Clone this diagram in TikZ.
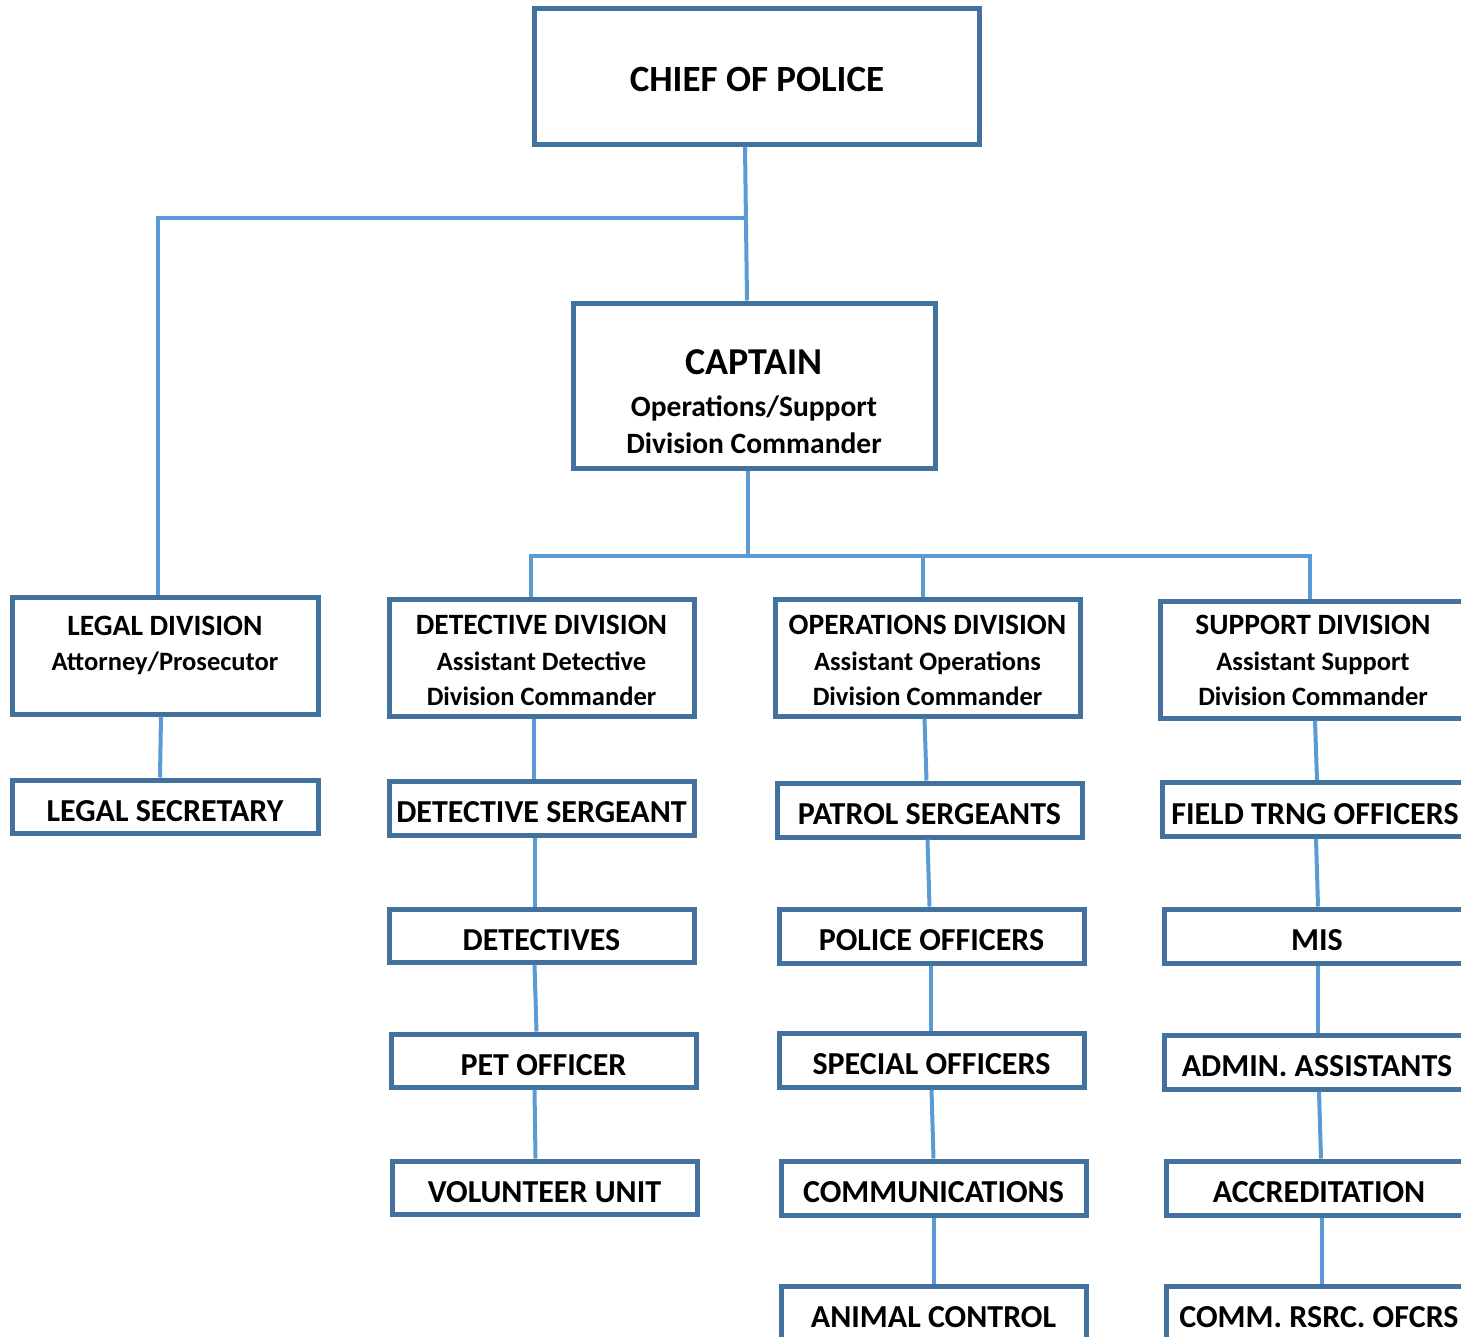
\documentclass[tikz,border=0pt]{standalone}
\usepackage{fontspec}
\setmainfont{Carlito}
\usepackage{tikz}

\definecolor{boxblue}{HTML}{41719C}
\definecolor{lineblue}{HTML}{5B9BD5}

\begin{document}
\begin{tikzpicture}[x=1pt,y=-1pt,
    box/.style = {draw=boxblue, line width=5pt, fill=white, align=center,
        inner sep=0pt, text=black, text depth=0pt, font=\bfseries},
    division/.style = {box, minimum width=305, minimum height=117, text height=96pt,
        font=\fontsize{26.5}{35.5}\selectfont\bfseries},
    unit/.style = {box, minimum width=305, minimum height=54, text height=29pt,
        font=\fontsize{32}{38}\selectfont\bfseries},
    link/.style = {draw=lineblue, line width=4pt}]
    \useasboundingbox (0,0) rectangle (1461,1336);
    \clip (0,0) rectangle (1461,1336);

    % top
    \node[box, minimum width=445, minimum height=136, text height=31.5pt,
        font=\fontsize{37}{44}\selectfont\bfseries] (chief) at (757,76) {CHIEF OF POLICE};
    \node[box, minimum width=362, minimum height=165, text height=135.5pt,
        font=\fontsize{29.5}{37}\selectfont\bfseries] (captain) at (754,385.5)
        {{\fontsize{38}{44}\selectfont CAPTAIN}\\[5pt]Operations/Support\\Division Commander};

    % divisions
    \node[division, minimum width=306, text height=30pt] (legal) at (165,655.5)
        {{\fontsize{29.5}{36}\selectfont LEGAL DIVISION}\\Attorney/Prosecutor};
    \node[division] (detdiv) at (541.5,657.5)
        {{\fontsize{29.5}{36}\selectfont DETECTIVE DIVISION}\\Assistant Detective\\Division Commander};
    \node[division] (opsdiv) at (927.5,657.5)
        {{\fontsize{29.5}{36}\selectfont OPERATIONS DIVISION}\\Assistant Operations\\Division Commander};
    \node[division, text height=92pt] (supdiv) at (1313,659.5)
        {{\fontsize{29.5}{36}\selectfont SUPPORT DIVISION}\\Assistant Support\\Division Commander};

    % units
    \node[unit, minimum width=306, minimum height=53] (legsec) at (165,806.5) {LEGAL SECRETARY};

    \node[unit] (detsgt) at (541.5,808) {DETECTIVE SERGEANT};
    \node[unit, minimum height=53] (dets) at (541.5,935.5) {DETECTIVES};
    \node[unit, minimum height=53] (pet) at (543.5,1060.5) {PET OFFICER};
    \node[unit, minimum height=53] (vol) at (544.5,1187.5) {VOLUNTEER UNIT};

    \node[unit] (patrol) at (929.5,810) {PATROL SERGEANTS};
    \node[unit] (police) at (931.5,936) {POLICE OFFICERS};
    \node[unit] (special) at (931.5,1060) {SPECIAL OFFICERS};
    \node[unit] (comms) at (933.5,1188) {COMMUNICATIONS};
    \node[unit] (animal) at (933.5,1313) {ANIMAL CONTROL};

    \node[unit] (field) at (1315,809.5) {FIELD TRNG OFFICERS};
    \node[unit] (mis) at (1317,936) {MIS};
    \node[unit] (admin) at (1317,1062) {ADMIN. ASSISTANTS};
    \node[unit] (accr) at (1319,1188) {ACCREDITATION};
    \node[unit] (comm) at (1319,1313) {COMM. RSRC. OFCRS};

    % connectors
    \coordinate (jlegal) at (745,218);
    \coordinate (jdiv) at (748,556);
    \draw[link] ([xshift=-12]chief.south) -- ([xshift=-7]captain.north);
    \draw[link] ([xshift=-7]legal.north) |- (jlegal);
    \draw[link] ([xshift=-6]captain.south) -- (jdiv);
    \draw[link] ([xshift=-11]detdiv.north) |- (jdiv) -| ([xshift=-3]supdiv.north);
    \draw[link] ([xshift=-4.5]opsdiv.north) |- (jdiv);
    \draw[link] ([xshift=-4]legal.south) -- ([xshift=-5]legsec.north);
    \foreach \a/\b/\s in {detdiv/detsgt/-8, detsgt/dets/-7, dets/pet/-7, pet/vol/-9,
        opsdiv/patrol/-3, patrol/police/-2, police/special/-1, special/comms/0, comms/animal/0,
        supdiv/field/2, field/mis/1, mis/admin/1, admin/accr/2, accr/comm/3}
        \draw[link] ([xshift=\s]\a.south) -- ([xshift=\s]\b.north);
\end{tikzpicture}
\end{document}
